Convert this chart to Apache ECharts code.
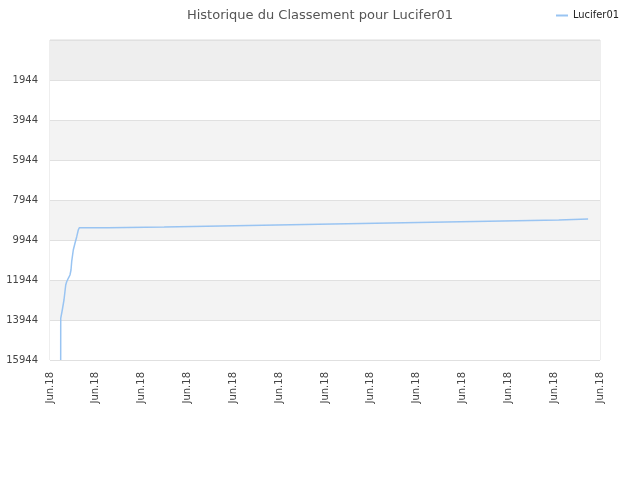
<!DOCTYPE html>
<html>
<head>
<meta charset="utf-8">
<script src="https://cdn.jsdelivr.net/npm/echarts@6/dist/echarts.min.js"></script>
<style>html,body{margin:0;padding:0;background:#fff}#c{width:640px;height:480px}</style>
</head>
<body>
<div id="c"></div>
<script>
// x positions in axis units (0..12, one unit per "Jun.18" label)
const xValues = [0.233, 0.234, 0.268, 0.305, 0.343, 0.364, 0.399, 0.436, 0.458, 0.473, 0.508, 0.545, 0.583, 0.617, 0.639,
  1.27, 2.49, 3.73, 4.95, 6.17, 7.42, 8.64, 9.88, 11.10, 11.74];
const rankValues = [15944, 13859, 13444, 12944, 12194, 12029, 11859, 11694, 11444, 11029, 10444, 10109, 9779, 9444, 9329,
  9294, 9244, 9194, 9144, 9094, 9044, 8994, 8944, 8894, 8894];
const xTickLabels = ['Jun.18','Jun.18','Jun.18','Jun.18','Jun.18','Jun.18','Jun.18','Jun.18','Jun.18','Jun.18','Jun.18','Jun.18','Jun.18'];
const seriesName = 'Lucifer01';
const titleText = 'Historique du Classement pour Lucifer01';

const data = xValues.map((x, i) => [x, rankValues[i]]);
const chart = echarts.init(document.getElementById('c'), null, {renderer: 'canvas'});
chart.setOption({
  animation: false,
  title: {
    text: titleText, left: 'center', top: 4,
    textStyle: {fontFamily: 'DejaVu Sans', fontSize: 13, fontWeight: 'normal', color: '#555'}
  },
  legend: {
    right: 16, top: 5, itemWidth: 12, itemHeight: 2, itemGap: 4,
    icon: 'rect',
    textStyle: {fontFamily: 'DejaVu Sans Condensed', fontSize: 11, color: '#222'},
    data: [seriesName]
  },
  grid: {left: 50, right: 40, top: 40, bottom: 120, show: true, borderColor: '#dddddd', borderWidth: 1, backgroundColor: 'transparent'},
  xAxis: {
    type: 'value', min: 0, max: 12, interval: 1,
    axisLine: {show: false}, axisTick: {show: false}, splitLine: {show: false},
    axisLabel: {
      rotate: 90, margin: 12, fontFamily: 'DejaVu Sans', fontSize: 10, color: '#444',
      formatter: (v) => xTickLabels[Math.round(v)] || ''
    }
  },
  yAxis: {
    type: 'value', inverse: true, min: -56, max: 15944, interval: 2000,
    axisLine: {show: false}, axisTick: {show: false},
    axisLabel: {showMinLabel: false, margin: 12, fontFamily: 'DejaVu Sans', fontSize: 10, color: '#444',
      formatter: (v) => String(v)},
    splitLine: {show: true, lineStyle: {color: '#e0e0e0', width: 1}},
    splitArea: {show: true, areaStyle: {color: ['#eeeeee', '#ffffff', '#f3f3f3', '#ffffff', '#f3f3f3', '#ffffff', '#f3f3f3', '#ffffff']}}
  },
  series: [{
    name: seriesName, type: 'line', step: 'end', data: data,
    showSymbol: false, symbol: 'none',
    lineStyle: {color: '#99c4f2', width: 1.5},
    itemStyle: {color: '#99c4f2'}
  }]
});
</script>
</body>
</html>
